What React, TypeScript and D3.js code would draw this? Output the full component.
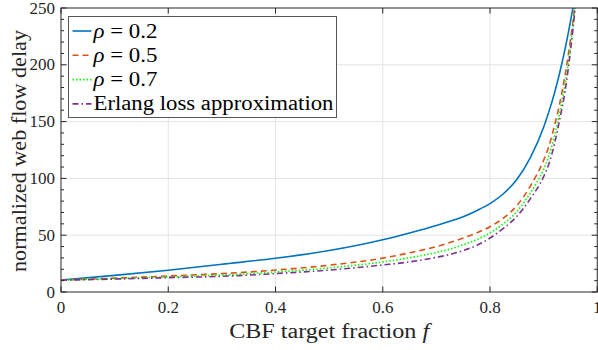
import React from 'react';
import * as d3 from 'd3';

// CBF target fraction grid (x axis)
const fractions = [0, 0.1, 0.2, 0.3, 0.4, 0.5, 0.6, 0.65, 0.7, 0.725, 0.75, 0.775, 0.8, 0.825, 0.85, 0.875, 0.9, 0.91, 0.92, 0.93, 0.94, 0.95, 0.96, 0.97];

// Normalized web flow delay for each load level
const rho02 = [10.6, 14.6, 19.1, 24.4, 29.7, 36.5, 46, 52, 58.5, 62.2, 66.3, 71.6, 77.8, 86.5, 99, 118, 145, 159, 174.8, 193, 214, 238, 265, 297];
const rho05 = [10.5, 12.2, 14.1, 16.2, 19.3, 23.6, 29.8, 34.5, 40, 43.5, 47.5, 52, 57.5, 65, 76, 93, 116, 128.5, 146, 166, 191, 222, 262, 335];
const rho07 = [10.5, 11.8, 13.3, 14.9, 17.6, 21.2, 26.5, 30.1, 34.8, 37.7, 41.5, 46, 52, 60, 70.8, 87, 108, 120, 137, 158, 183, 216.5, 260, 332];
const erlang = [10.4, 11.4, 12.6, 13.8, 16.2, 19.3, 23.8, 26.5, 30.5, 33, 36.5, 41, 47.5, 56, 66.5, 82, 101.5, 113, 130, 152, 177, 212, 258, 330];

const xTicks = [0, 0.2, 0.4, 0.6, 0.8, 1];
const xTickLabels = ['0', '0.2', '0.4', '0.6', '0.8', '1'];
const yTicks = [0, 50, 100, 150, 200, 250];
const yTickLabels = ['0', '50', '100', '150', '200', '250'];
const yMinorTicks = d3.range(0, 251, 10);

const seriesNames = ['0.2', '0.5', '0.7', 'Erlang loss approximation'];
const seriesValues = [rho02, rho05, rho07, erlang];
const seriesColors = ['#0072BD', '#D95319', '#00FF00', '#7E2F8E'];
const seriesDashes = ['none', '6,4', '1.5,2', '6,3,1.5,3'];

const W = 598;
const H = 350;
const left = 61;
const right = 597.25;
const top = 8;
const bottom = 292;
const serif = '"Liberation Serif", "Times New Roman", serif';
const ink = '#262626';

export default function App() {
  const x = d3.scaleLinear().domain([0, 1]).range([left, right]);
  const y = d3.scaleLinear().domain([0, 250]).range([bottom, top]);
  const line = d3
    .line<number>()
    .x((_, i) => x(fractions[i]))
    .y((d) => y(d))
    .curve(d3.curveMonotoneX);

  const legendX = 68.5;
  const legendY = 16.5;
  const legendW = 268;
  const legendH = 101;
  const rowY = (i: number) => legendY + 14.5 + i * 24.3;

  return (
    <svg
      width={W}
      height={H}
      style={{ position: 'absolute', left: 0, top: 0, background: '#fff' }}
      fontFamily={serif}
    >
      <defs>
        <clipPath id="plot-area">
          <rect x={left} y={top} width={right - left} height={bottom - top} />
        </clipPath>
      </defs>
      <rect x={0} y={0} width={W} height={H} fill="#fff" />

      {/* grid */}
      <g stroke="#e3e3e3" strokeWidth={1}>
        {xTicks.slice(1, -1).map((t) => (
          <line key={'gx' + t} x1={x(t)} x2={x(t)} y1={top} y2={bottom} />
        ))}
        {yTicks.slice(1, -1).map((t) => (
          <line key={'gy' + t} x1={left} x2={right} y1={y(t)} y2={y(t)} />
        ))}
      </g>

      {/* curves */}
      <g clipPath="url(#plot-area)" fill="none">
        {seriesValues.map((vals, k) => (
          <path
            key={k}
            d={line(vals) || ''}
            stroke={seriesColors[k]}
            strokeWidth={1.6}
            strokeDasharray={seriesDashes[k]}
          />
        ))}
      </g>

      {/* axes box and ticks */}
      <g stroke={ink} strokeWidth={1} fill="none">
        <rect x={left} y={top} width={right - left} height={bottom - top} />
        {xTicks.map((t) => (
          <g key={'tx' + t}>
            <line x1={x(t)} x2={x(t)} y1={bottom} y2={bottom - 5.5} />
            <line x1={x(t)} x2={x(t)} y1={top} y2={top + 5.5} />
          </g>
        ))}
        {yMinorTicks.map((t) => {
          const len = t % 50 === 0 ? 5.5 : 3;
          return (
            <g key={'ty' + t}>
              <line x1={left} x2={left + len} y1={y(t)} y2={y(t)} />
              <line x1={right} x2={right - len} y1={y(t)} y2={y(t)} />
            </g>
          );
        })}
      </g>

      {/* tick labels */}
      <g fill={ink}>
        {xTicks.map((t, i) => (
          <text key={'lx' + t} x={x(t)} y={313} textAnchor="middle" fontFamily={serif} fontSize={17}>
            {xTickLabels[i]}
          </text>
        ))}
        {yTicks.map((t, i) => (
          <text key={'ly' + t} x={55} y={y(t) + 5.5} textAnchor="end" fontFamily={serif} fontSize={17}>
            {yTickLabels[i]}
          </text>
        ))}
      </g>

      {/* axis titles */}
      <text
        x={(left + right) / 2}
        y={337.5}
        textAnchor="middle"
        fontFamily={serif}
        fontSize={20.5}
        fill={ink}
        textLength={200}
        lengthAdjust="spacingAndGlyphs"
      >
        CBF target fraction <tspan fontStyle="italic">f</tspan>
      </text>
      <text
        transform={`translate(26, ${(top + bottom) / 2 + 1}) rotate(-90)`}
        textAnchor="middle"
        fontFamily={serif}
        fontSize={20.5}
        fill={ink}
        textLength={242}
        lengthAdjust="spacingAndGlyphs"
      >
        normalized web flow delay
      </text>

      {/* legend */}
      <g>
        <rect x={legendX} y={legendY} width={legendW} height={legendH} fill="#fff" stroke="#555" strokeWidth={1} />
        {seriesNames.map((name, i) => (
          <g key={'lg' + i}>
            <line
              x1={legendX + 4}
              x2={legendX + 23}
              y1={rowY(i)}
              y2={rowY(i)}
              stroke={seriesColors[i]}
              strokeWidth={1.6}
              strokeDasharray={seriesDashes[i]}
            />
            <text
              x={legendX + 25}
              y={rowY(i) + 6.5}
              fontFamily={serif}
              fontSize={20.5}
              fill="#000"
              textLength={i < 3 ? 64 : 240}
              lengthAdjust="spacingAndGlyphs"
            >
              {i < 3 ? (
                <>
                  <tspan fontStyle="italic">ρ</tspan> = {name}
                </>
              ) : (
                name
              )}
            </text>
          </g>
        ))}
      </g>
    </svg>
  );
}
